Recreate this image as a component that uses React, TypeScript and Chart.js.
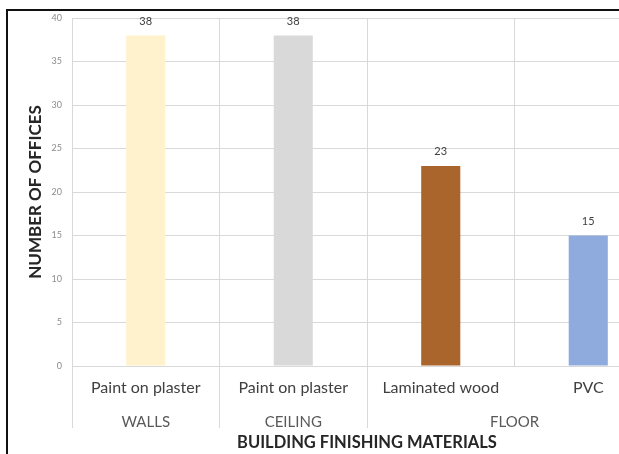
import { useEffect, useRef } from 'react';
import { Chart, registerables } from 'chart.js';

Chart.register(...registerables);

// Finishing materials per building element
const categories = ['Paint on plaster', 'Paint on plaster', 'Laminated wood', 'PVC'];
const offices = [38, 38, 23, 15];
const barColors = ['#FFF2CC', '#D9D9D9', '#A9652B', '#8FAADC'];

// Outer category level: element name and how many materials it spans
const groups = ['WALLS', 'CEILING', 'FLOOR'];
const groupSpans = [1, 1, 2];

const yTitle = 'NUMBER OF OFFICES';
const xTitle = 'BUILDING FINISHING MATERIALS';
const yMin = 0;
const yMax = 40;
const yStep = 5;

const FONT = 'Lato';
const GRID = '#D9D9D9';

// centre index of each group along the category axis
const groupCenters: number[] = [];
// indices where a group starts (its left boundary gets a long tick)
const groupStarts = new Set<number>();
{
  let start = 0;
  for (const span of groupSpans) {
    groupCenters.push(start + (span - 1) / 2);
    groupStarts.add(start);
    start += span;
  }
  groupStarts.add(start);
}

const valueLabels = {
  id: 'valueLabels',
  afterDatasetsDraw(chart: any) {
    const { ctx } = chart;
    const meta = chart.getDatasetMeta(0);
    const data = chart.data.datasets[0].data as number[];
    ctx.save();
    ctx.font = `11px ${FONT}`;
    ctx.fillStyle = '#404040';
    ctx.textAlign = 'center';
    ctx.textBaseline = 'middle';
    meta.data.forEach((bar: any, i: number) => {
      ctx.fillText(String(data[i]), bar.x, bar.y - 14);
    });
    ctx.restore();
  },
};

export default function App() {
  const ref = useRef<HTMLCanvasElement>(null);

  useEffect(() => {
    const chart = new Chart(ref.current!, {
      type: 'bar',
      data: {
        labels: categories,
        datasets: [
          {
            data: offices,
            backgroundColor: barColors,
            borderWidth: 0,
            barPercentage: 0.265,
            categoryPercentage: 1,
          },
        ],
      },
      options: {
        responsive: false,
        animation: false,
        layout: { padding: { top: 18, left: 0, right: 0, bottom: 0 } },
        plugins: {
          legend: { display: false },
          tooltip: { enabled: false },
        },
        scales: {
          y: {
            min: yMin,
            max: yMax,
            ticks: {
              stepSize: yStep,
              color: '#8C8C8C',
              font: { family: FONT, size: 9 },
              padding: 10,
            },
            grid: { color: GRID, drawTicks: false },
            border: { display: false },
            title: {
              display: true,
              text: yTitle,
              color: '#262626',
              font: { family: FONT, size: 17, weight: 'bold' },
              padding: { top: 25, bottom: 0 },
            },
            afterFit(scale: any) {
              scale.width = 72;
            },
          },
          x: {
            type: 'category',
            position: 'bottom',
            weight: 0,
            offset: true,
            grid: {
              offset: true,
              color: GRID,
              tickLength: 62,
              tickColor: (ctx: any) =>
                ctx.index !== undefined && !groupStarts.has(ctx.index) ? 'rgba(0,0,0,0)' : GRID,
            },
            border: { display: true, color: GRID },
            ticks: {
              color: '#404040',
              font: { family: FONT, size: 16 },
              padding: -50,
              maxRotation: 0,
              autoSkip: false,
            },
            afterFit(scale: any) {
              scale.height = 38;
            },
          },
          x2: {
            type: 'linear',
            position: 'bottom',
            weight: 1,
            offset: false,
            bounds: 'data',
            min: -0.5,
            max: categories.length - 0.5,
            grid: { display: false, offset: false },
            border: { display: false },
            afterBuildTicks(scale: any) {
              scale.ticks = groupCenters.map((v) => ({ value: v }));
            },
            ticks: {
              color: '#595959',
              font: { family: FONT, size: 15 },
              padding: 1,
              maxRotation: 0,
              autoSkip: false,
              callback: (value: any) => {
                const i = groupCenters.indexOf(Number(value));
                return i >= 0 ? groups[i] : '';
              },
            },
            title: {
              display: true,
              text: xTitle,
              color: '#262626',
              font: { family: FONT, size: 16.5, weight: 'bold' },
              padding: { top: 0, bottom: 1 },
            },
            afterFit(scale: any) {
              scale.height = 50;
            },
          },
        },
      },
      plugins: [valueLabels],
    });
    return () => chart.destroy();
  }, []);

  return (
    <div
      style={{
        position: 'fixed',
        left: 0,
        top: 0,
        width: 619,
        height: 454,
        overflow: 'hidden',
        background: '#fff',
      }}
    >
      <canvas
        ref={ref}
        width={662}
        height={454}
        style={{ position: 'absolute', left: 0, top: 0, width: 662, height: 454 }}
      />
      <div
        style={{
          position: 'absolute',
          left: 6,
          top: 9,
          right: -10,
          bottom: -10,
          borderLeft: '2px solid #111',
          borderTop: '2px solid #111',
          pointerEvents: 'none',
        }}
      />
    </div>
  );
}
